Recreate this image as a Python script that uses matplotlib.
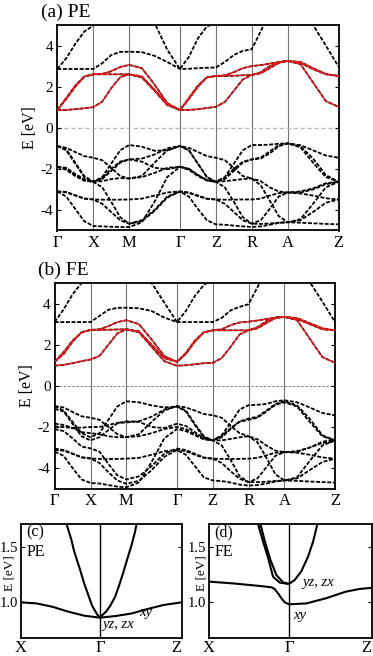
import numpy as np
import matplotlib
matplotlib.use('Agg')
import matplotlib.pyplot as plt

plt.rcParams['font.family'] = ['Liberation Serif', 'DejaVu Serif']
plt.rcParams['axes.unicode_minus'] = False

# --- band path -------------------------------------------------------------
path_labels = ['Γ', 'X', 'M', 'Γ', 'Z', 'R', 'A', 'Z']
seg_len = [1, 1, np.sqrt(2), 1, 1, 1, np.sqrt(2)]
# every band: value at each node plus at 1/4, 1/2, 3/4 of each segment (29 values)

# (a) PE, O-2p valence bands
pe_val = [
    [-0.89, -0.98, -1.18, -1.38, -1.46, -1.58, -1.95, -2.35, -2.47, -2.35, -1.7, -1.1, -0.89,
     -0.98, -1.18, -1.38, -1.46, -1.58, -1.95, -2.35, -2.47, -2.8, -3.55, -4.3, -4.6, -4.45, -3.7, -2.9, -2.63],
    [-0.89, -1.1, -1.75, -2.4, -2.63, -2.4, -1.75, -1.1, -0.84, -0.92, -1.12, -1.1, -0.89,
     -1.1, -1.75, -2.4, -2.63, -2.4, -1.75, -1.1, -0.84, -0.84, -0.82, -0.78, -0.76, -0.85, -1.1, -1.35, -1.46],
    [-0.89, -1.05, -1.7, -2.35, -2.63, -2.5, -2.1, -1.7, -1.54, -1.65, -1.95, -2.02, -1.9,
     -2.0, -2.3, -2.55, -2.63, -2.5, -2.1, -1.7, -1.54, -1.45, -1.15, -0.85, -0.76, -0.9, -1.5, -2.3, -2.63],
    [-1.9, -2.0, -2.3, -2.55, -2.63, -2.6, -2.5, -2.45, -2.47, -2.4, -2.2, -1.95, -1.9,
     -2.0, -2.3, -2.55, -2.63, -2.6, -2.55, -2.5, -2.47, -2.6, -2.9, -3.1, -3.15, -3.1, -2.95, -2.7, -2.63],
    [-1.9, -1.95, -2.25, -2.5, -2.63, -2.45, -2.0, -1.65, -1.54, -1.5, -1.3, -1.0, -0.89,
     -1.1, -1.75, -2.4, -2.63, -2.45, -2.0, -1.65, -1.54, -1.5, -1.25, -0.9, -0.76, -0.95, -1.7, -2.4, -2.63],
    [-1.9, -2.05, -2.35, -2.58, -2.63, -2.9, -3.6, -4.35, -4.67, -4.5, -4.0, -3.35, -3.1,
     -3.15, -3.3, -3.45, -3.49, -3.5, -3.5, -3.49, -3.49, -3.45, -3.3, -3.18, -3.15, -3.15, -3.0, -2.75, -2.63],
    [-3.1, -3.15, -3.3, -3.45, -3.49, -3.5, -3.5, -3.5, -3.49, -3.45, -3.3, -3.15, -3.1,
     -3.17, -3.33, -3.46, -3.49, -3.7, -4.1, -4.5, -4.67, -4.68, -4.66, -4.62, -4.6, -4.5, -4.1, -3.65, -3.49],
    [-3.1, -3.12, -3.28, -3.44, -3.49, -3.7, -4.1, -4.5, -4.67, -4.55, -4.05, -3.4, -3.1,
     -3.35, -3.95, -4.5, -4.7, -4.72, -4.76, -4.8, -4.83, -4.8, -4.72, -4.63, -4.6, -4.62, -4.65, -4.68, -4.7],
    [-3.1, -3.35, -3.95, -4.55, -4.78, -4.8, -4.82, -4.83, -4.83, -4.6, -3.6, -2.4, -1.9,
     -2.05, -2.35, -2.57, -2.63, -2.9, -3.6, -4.35, -4.67, -4.5, -3.95, -3.35, -3.15, -3.2, -3.3, -3.43, -3.49],
]
# (a) PE, Ti t2g bands (red)
pe_t2g = [
    [0.86, 0.87, 0.9, 0.95, 1.0, 1.27, 1.92, 2.46, 2.6, 2.45, 1.8, 1.1, 0.86,
     0.87, 0.9, 0.96, 1.02, 1.25, 1.8, 2.35, 2.57, 2.65, 2.9, 3.15, 3.25, 3.1, 2.2, 1.3, 1.02],
    [0.86, 1.45, 2.05, 2.5, 2.6, 2.6, 2.6, 2.6, 2.6, 2.5, 1.85, 1.15, 0.86,
     1.45, 2.05, 2.45, 2.52, 2.52, 2.53, 2.55, 2.57, 2.7, 3.0, 3.2, 3.25, 3.15, 2.85, 2.6, 2.52],
    [0.86, 1.4, 2.0, 2.48, 2.6, 2.62, 2.75, 2.95, 3.06, 2.9, 2.1, 1.2, 0.86,
     1.4, 2.0, 2.45, 2.52, 2.55, 2.7, 2.9, 3.0, 3.05, 3.12, 3.2, 3.25, 3.2, 2.9, 2.62, 2.52],
]
# (a) PE, higher bands
pe_high = [
    [2.86, 2.86, 2.86, 2.86, 2.86, 3.14, 3.54, 3.69, 3.7, 3.68, 3.5, 3.2, 2.86,
     2.87, 2.9, 2.92, 2.93, 3.2, 3.54, 3.74, 3.82, 4.7, 5.6, 6.2, 6.5, 6.2, 5.0, 4.0, 2.98],
    [2.86, 3.38, 4.08, 4.68, 4.97, 5.3, 5.6, 5.8, 6.0, 5.8, 5.1, 3.8, 2.86,
     3.45, 4.35, 4.93, 5.1, 5.4, 5.7, 5.9, 6.0, 6.2, 6.3, 6.3, 6.3, 6.3, 6.3, 6.3, 6.3],
]

# (b) FE
fe_val = [
    [-0.98, -1.05, -1.27, -1.48, -1.55, -1.65, -2.0, -2.35, -2.49, -2.35, -1.75, -1.2, -0.98,
     -1.05, -1.2, -1.37, -1.43, -1.55, -1.95, -2.3, -2.45, -2.75, -3.5, -4.3, -4.6, -4.45, -3.65, -2.9, -2.65],
    [-1.0, -1.2, -1.75, -2.3, -2.5, -2.3, -1.65, -1.0, -0.75, -0.8, -0.95, -1.05, -1.0,
     -1.2, -1.85, -2.45, -2.65, -2.4, -1.8, -1.15, -0.94, -0.92, -0.88, -0.75, -0.7, -0.8, -1.05, -1.32, -1.43],
    [-1.12, -1.25, -1.85, -2.45, -2.65, -2.5, -2.15, -1.82, -1.72, -1.75, -2.0, -2.05, -1.84,
     -1.95, -2.25, -2.55, -2.65, -2.5, -2.1, -1.72, -1.59, -1.5, -1.2, -0.88, -0.75, -0.95, -1.6, -2.4, -2.65],
    [-1.84, -1.9, -2.05, -2.25, -2.3, -2.35, -2.45, -2.5, -2.49, -2.45, -2.3, -2.1, -2.0,
     -2.1, -2.35, -2.58, -2.65, -2.65, -2.58, -2.5, -2.45, -2.6, -2.9, -3.15, -3.22, -3.18, -3.0, -2.78, -2.7],
    [-1.98, -2.0, -2.05, -2.03, -2.0, -2.0, -1.9, -1.8, -1.78, -1.72, -1.5, -1.15, -1.0,
     -1.25, -1.9, -2.5, -2.65, -2.45, -2.05, -1.75, -1.65, -1.55, -1.25, -0.92, -0.8, -1.0, -1.75, -2.45, -2.65],
    [-2.1, -2.2, -2.55, -2.95, -3.04, -3.2, -3.8, -4.35, -4.55, -4.4, -3.9, -3.3, -3.05,
     -3.12, -3.3, -3.48, -3.54, -3.55, -3.56, -3.55, -3.54, -3.5, -3.38, -3.25, -3.22, -3.2, -3.0, -2.72, -2.6],
    [-3.05, -3.12, -3.3, -3.48, -3.53, -3.55, -3.56, -3.55, -3.54, -3.5, -3.35, -3.18, -3.12,
     -3.18, -3.35, -3.5, -3.54, -3.75, -4.15, -4.52, -4.68, -4.68, -4.66, -4.62, -4.6, -4.5, -4.1, -3.7, -3.54],
    [-3.12, -3.15, -3.3, -3.47, -3.53, -3.75, -4.2, -4.6, -4.76, -4.62, -4.1, -3.45, -3.12,
     -3.35, -3.9, -4.45, -4.6, -4.63, -4.7, -4.8, -4.85, -4.82, -4.75, -4.65, -4.6, -4.62, -4.65, -4.68, -4.7],
    [-3.2, -3.4, -4.0, -4.55, -4.72, -4.75, -4.82, -4.9, -4.93, -4.7, -3.7, -2.55, -2.1,
     -2.2, -2.4, -2.6, -2.65, -2.9, -3.6, -4.4, -4.68, -4.5, -3.95, -3.4, -3.22, -3.25, -3.35, -3.48, -3.54],
]
fe_t2g = [
    [0.98, 1.02, 1.1, 1.2, 1.28, 1.45, 2.0, 2.55, 2.75, 2.6, 1.9, 1.2, 0.98,
     1.0, 1.05, 1.1, 1.12, 1.35, 1.9, 2.5, 2.7, 2.8, 3.05, 3.3, 3.35, 3.2, 2.3, 1.4, 1.12],
    [1.17, 1.65, 2.2, 2.6, 2.72, 2.72, 2.73, 2.74, 2.75, 2.65, 2.0, 1.35, 1.17,
     1.6, 2.2, 2.6, 2.7, 2.7, 2.7, 2.7, 2.7, 2.85, 3.15, 3.32, 3.35, 3.25, 3.0, 2.75, 2.7],
    [1.17, 1.55, 2.15, 2.6, 2.72, 2.75, 2.9, 3.1, 3.19, 3.0, 2.25, 1.45, 1.17,
     1.55, 2.15, 2.6, 2.7, 2.75, 2.95, 3.08, 3.12, 3.18, 3.25, 3.32, 3.35, 3.3, 3.05, 2.8, 2.7],
]
fe_high = [
    [3.1, 3.1, 3.1, 3.1, 3.1, 3.4, 3.7, 3.79, 3.8, 3.77, 3.64, 3.32, 3.1,
     3.1, 3.1, 3.1, 3.1, 3.3, 3.67, 3.84, 3.97, 4.8, 5.6, 6.2, 6.5, 6.3, 5.05, 4.1, 3.1],
    [3.1, 3.72, 4.45, 5.0, 5.3, 5.6, 5.9, 6.1, 6.2, 6.0, 5.0, 4.05, 3.1,
     3.64, 4.37, 4.9, 5.2, 5.5, 5.8, 6.0, 6.2, 6.3, 6.3, 6.3, 6.3, 6.3, 6.3, 6.3, 6.3],
]

# (c) PE near Gamma  (k: X = -1, Gamma = 0, Z = 1.03)
c_xy_k = [-1, -0.8, -0.6, -0.4, -0.2, 0, 0.2, 0.4, 0.6, 0.8, 1.03]
c_xy_e = [1.0, 0.99, 0.96, 0.916, 0.88, 0.862, 0.877, 0.90, 0.94, 0.976, 1.0]
c_yz_k = [-0.42, -0.39, -0.36, -0.33, -0.30, -0.25, -0.20, -0.15, -0.10, -0.06, -0.03, 0,
          0.03, 0.08, 0.13, 0.19, 0.24, 0.29, 0.34, 0.40, 0.44, 0.46]
c_yz_e = [1.70, 1.63, 1.56, 1.47, 1.40, 1.29, 1.17, 1.07, 0.97, 0.92, 0.885, 0.87,
          0.885, 0.92, 0.97, 1.05, 1.15, 1.26, 1.38, 1.52, 1.63, 1.70]

# (d) FE near Gamma
d_xy_k = [-1, -0.7, -0.365, -0.22, -0.18, -0.137, -0.095, -0.054, 0, 0.216, 0.46, 0.71, 0.88, 1.03]
d_xy_e = [1.186, 1.17, 1.147, 1.135, 1.12, 1.08, 1.036, 1.0, 0.982, 0.99, 1.036, 1.096, 1.12, 1.13]
d_outer_k = [-0.386, -0.324, -0.26, -0.2, -0.116, 0, 0.07, 0.154, 0.237, 0.30, 0.353]
d_outer_e = [1.70, 1.545, 1.395, 1.23, 1.177, 1.165, 1.20, 1.28, 1.41, 1.545, 1.70]
d_inner_k = [-0.357, -0.295, -0.232, -0.158, -0.075, 0]
d_inner_e = [1.70, 1.53, 1.38, 1.245, 1.18, 1.165]

W, H = 373, 656
fig = plt.figure(figsize=(W / 100, H / 100), dpi=100)

nodes = np.concatenate([[0], np.cumsum(seg_len)])
kpath = np.concatenate([np.linspace(nodes[i], nodes[i + 1], 5)[:-1] for i in range(len(seg_len))] + [[nodes[-1]]])

dash = (0, (2.2, 0.9))


def band_panel(rect, val, t2g, high, title, zero_color, zero_lw):
    ax = fig.add_axes(rect)
    for n in nodes[1:-1]:
        ax.axvline(n, color='0.45', lw=0.8, zorder=1)
    ax.axhline(0, color=zero_color, lw=zero_lw, ls=(0, (3, 2)), zorder=1)
    for b in val + high + t2g:
        ax.plot(kpath, b, color='black', lw=1.3, ls=dash, zorder=2)
    for b in t2g:
        ax.plot(kpath, b, color='#e31a1c', lw=1.0, zorder=3)
    ax.set_xlim(nodes[0], nodes[-1])
    ax.set_ylim(-5, 5)
    ax.set_yticks([-4, -2, 0, 2, 4])
    ax.set_xticks(nodes)
    ax.set_xticklabels(path_labels, fontsize=12)
    ax.tick_params(axis='x', length=0, pad=3)
    ax.tick_params(axis='y', direction='in', right=True, length=3, labelsize=11, pad=3)
    for s in ax.spines.values():
        s.set_linewidth(1.3)
    ax.set_ylabel('E [eV]', fontsize=11.5, labelpad=2)
    fig.text(rect[0] - 0.045, rect[1] + rect[3] + 0.006, title, fontsize=14, va='bottom')
    return ax


band_panel([57.3 / W, 1 - 230.5 / H, 281.2 / W, 205.5 / H], pe_val, pe_t2g, pe_high,
           '(a) PE', '0.72', 1.0)
band_panel([54.7 / W, 1 - 488.7 / H, 280.3 / W, 205.7 / H], fe_val, fe_t2g, fe_high,
           '(b) FE', '0.45', 0.6)


def zoom_panel(rect, curves, tag, phase, lab_yz, lab_xy, ylab_x):
    ax = fig.add_axes(rect)
    ax.axvline(0, color='black', lw=1.0)
    for k, e in curves:
        ax.plot(k, e, color='black', lw=1.5)
    ax.set_xlim(-1, 1.03)
    ax.set_ylim(0.682, 1.704)
    ax.set_yticks([1.0, 1.5])
    ax.set_yticklabels(['1.0', '1.5'])
    ax.set_xticks([-1, 0, 1.03])
    ax.set_xticklabels(['X', 'Γ', 'Z'], fontsize=12)
    ax.get_xticklabels()[-1].set_horizontalalignment('right')
    ax.tick_params(axis='x', length=0, pad=2)
    ax.tick_params(axis='y', direction='in', right=True, length=3, labelsize=10.5, pad=2)
    for s in ax.spines.values():
        s.set_linewidth(1.3)
    ax.set_ylabel('E [eV]', fontsize=9.5)
    ax.yaxis.set_label_coords(ylab_x, 0.57)
    ax.text(-0.93, 1.63, tag, fontsize=11.5, va='center')
    ax.text(-0.93, 1.45, phase, fontsize=11.5, va='center')
    ax.text(lab_yz[0], lab_yz[1], 'yz, zx', fontsize=10.5, style='italic', va='center')
    ax.text(lab_xy[0], lab_xy[1], 'xy', fontsize=10.5, style='italic', va='center')
    return ax


zoom_panel([20.7 / W, 1 - 637.7 / H, 161 / W, 113.7 / H],
           [(c_xy_k, c_xy_e), (c_yz_k, c_yz_e)],
           '(c)', 'PE', (0.025, 0.805), (0.5, 0.913), -0.035)
zoom_panel([209 / W, 1 - 637.7 / H, 162.5 / W, 113.7 / H],
           [(d_xy_k, d_xy_e), (d_outer_k, d_outer_e), (d_inner_k, d_inner_e)],
           '(d)', 'FE', (0.16, 1.18), (0.05, 0.886), -0.01)

fig.savefig('out.png', dpi=100)
